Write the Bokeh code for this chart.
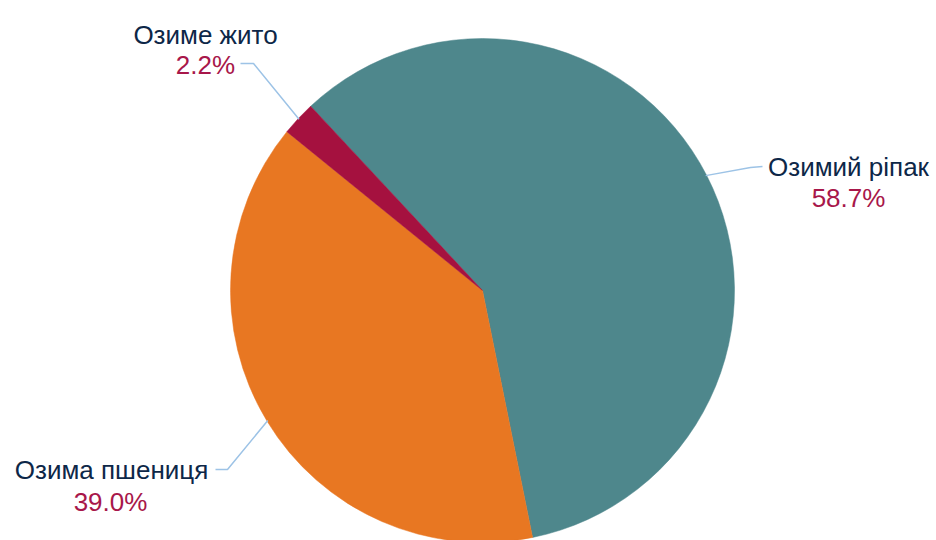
import math
from bokeh.plotting import figure
from bokeh.models import Range1d, ColumnDataSource
from bokeh.core.properties import value
from bokeh.embed import file_html
from bokeh.resources import INLINE

# ---- data ----
categories = ["Озимий ріпак", "Озима пшениця", "Озиме жито"]
shares = [58.7, 39.0, 2.2]
pct_labels = ["58.7%", "39.0%", "2.2%"]
colors = ["#4E878C", "#E87722", "#A5113F"]

# ---- layout (pixel coords of the screenshot) ----
W, H = 936, 540
def X(px): return px
def Y(py): return H - py

cx, cy, R = X(482), Y(290), 252
start_theta = -43.0  # degrees clockwise from 12 o'clock

p = figure(width=W, height=H, output_backend="svg", toolbar_location=None,
           x_range=Range1d(0, W), y_range=Range1d(0, H), min_border=0)
p.axis.visible = False
p.grid.visible = False
p.outline_line_color = None
p.background_fill_color = "white"

total = sum(shares)
starts, ends, mids = [], [], []
t = start_theta
for s in shares:
    a = 360.0 * s / total
    starts.append(t)
    ends.append(t + a)
    mids.append(t + a / 2)
    t += a

def to_math(theta):
    return math.radians(90.0 - theta)

src = ColumnDataSource(dict(
    start=[to_math(a) for a in starts],
    end=[to_math(b) for b in ends],
    color=colors,
))
p.wedge(x=cx, y=cy, radius=R, start_angle="start", end_angle="end",
        direction="clock", fill_color="color", line_color="color",
        line_width=0.5, source=src)

# leader lines: edge point at mid-angle -> elbow -> end
elbows = [(750, 167), (227, 469), (253, 63)]
line_ends = [(762, 166), (215, 469), (240, 63)]
for m, el, en in zip(mids, elbows, line_ends):
    r = R - 1
    ex = cx + r * math.sin(math.radians(m))
    ey = cy + r * math.cos(math.radians(m))
    p.line([ex, X(el[0]), X(en[0])], [ey, Y(el[1]), Y(en[1])],
           line_color="#9DC3E6", line_width=1.5)

# labels
name_pos = [(848, 166), (111, 469), (205, 34)]
pct_pos = [(848, 197), (110, 501), (205, 64)]
p.text(x=[X(a) for a, b in name_pos], y=[Y(b) for a, b in name_pos], text=categories,
       text_font=value("Liberation Sans"), text_font_size="26px",
       text_color="#0D2748", text_align="center", text_baseline="alphabetic")
p.text(x=[X(a) for a, b in pct_pos], y=[Y(b) for a, b in pct_pos], text=pct_labels,
       text_font=value("Liberation Sans"), text_font_size="26px",
       text_color="#A8174A", text_align="center", text_baseline="alphabetic")

open("out.html", "w").write(file_html(p, INLINE))
